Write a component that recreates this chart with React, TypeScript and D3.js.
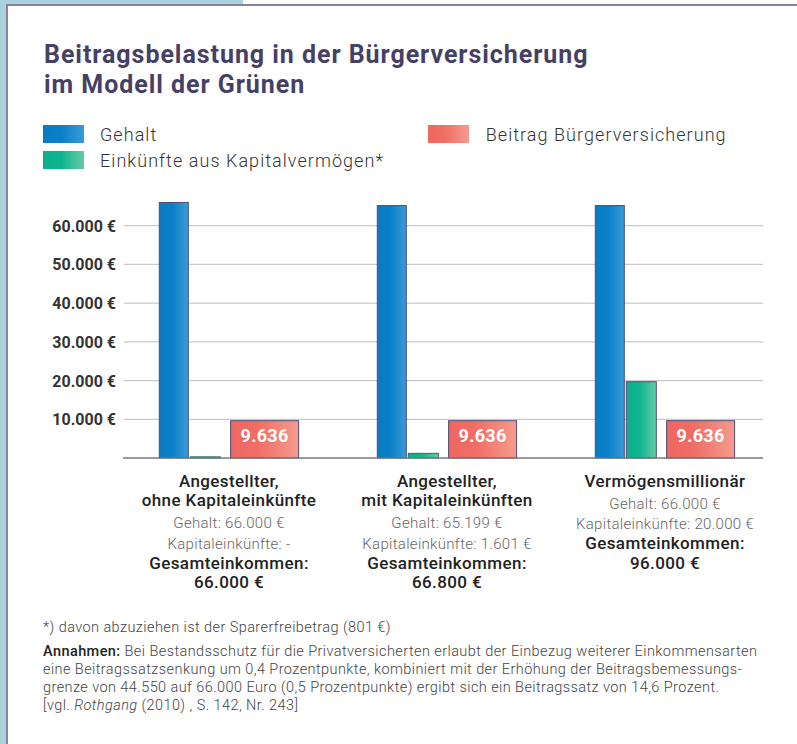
import React from "react";
import * as d3 from "d3";

const categories = ["ohne", "mit", "millionaer"];
const gehalt = [66000, 65199, 65200];
const kapital = [300, 1200, 19700];
const beitrag = [9636, 9636, 9636];
const yTicks = [10000, 20000, 30000, 40000, 50000, 60000];

const categoryNames = [
  ["Angestellter,", "ohne Kapitaleinkünfte"],
  ["Angestellter,", "mit Kapitaleinkünften"],
  ["Vermögensmillionär"],
];
const detailLines = [
  ["Gehalt: 66.000 €", "Kapitaleinkünfte: -"],
  ["Gehalt: 65.199 €", "Kapitaleinkünfte: 1.601 €"],
  ["Gehalt: 66.000 €", "Kapitaleinkünfte: 20.000 €"],
];
const totalLines = [
  ["Gesamteinkommen:", "66.000 €"],
  ["Gesamteinkommen:", "66.800 €"],
  ["Gesamteinkommen:", "96.000 €"],
];
const legendItems = [
  { key: "blue", label: "Gehalt" },
  { key: "green", label: "Einkünfte aus Kapitalvermögen*" },
  { key: "red", label: "Beitrag Bürgerversicherung" },
];
const titleLines = ["Beitragsbelastung in der Bürgerversicherung", "im Modell der Grünen"];
const footnote = "*) davon abzuziehen ist der Sparerfreibetrag (801 €)";
const noteLines = [
  " Bei Bestandsschutz für die Privatversicherten erlaubt der Einbezug weiterer Einkommensarten",
  "eine Beitragssatzsenkung um 0,4 Prozentpunkte, kombiniert mit der Erhöhung der Beitragsbemessungs-",
  "grenze von 44.550 auf 66.000 Euro (0,5 Prozentpunkte) ergibt sich ein Beitragssatz von 14,6 Prozent.",
];

const locale = d3.formatLocale({ decimal: ",", thousands: ".", grouping: [3], currency: ["", " €"] });
const fmt = locale.format(",.0f");

const FONT = "Roboto, 'Noto Sans', sans-serif";

export default function App() {
  const W = 797, H = 744;
  const y = d3.scaleLinear().domain([0, 60000]).range([458, 225.7]);
  const x = d3.scaleBand().domain(categories).range([120, 774]).padding(0);
  const axisL = 123, axisR = 763;

  const blueOff = -69.7, blueW = 29;
  const greenOff = -38.7, greenW = 30;
  const redOff = 1.6, redW = 68;
  const barStroke = "#514b72";
  const noteStyle = { fontSize: 14.5, fontWeight: 300, fill: "#444444", letterSpacing: 0.42 } as const;

  return (
    <div style={{ position: "absolute", left: 0, top: 0 }}>
      <svg width={W} height={H} style={{ display: "block", fontFamily: FONT }}>
        <defs>
          <linearGradient id="gBlue" x1="0" x2="1" y1="0" y2="0">
            <stop offset="0" stopColor="#0a7bc3" />
            <stop offset="0.45" stopColor="#0a80c8" />
            <stop offset="1" stopColor="#3a9bd7" />
          </linearGradient>
          <linearGradient id="gGreen" x1="0" x2="1" y1="0" y2="0">
            <stop offset="0" stopColor="#0cb08c" />
            <stop offset="0.45" stopColor="#0fb58f" />
            <stop offset="1" stopColor="#66caa7" />
          </linearGradient>
          <linearGradient id="gRed" x1="0" x2="1" y1="0" y2="0">
            <stop offset="0" stopColor="#ef6760" />
            <stop offset="0.4" stopColor="#f06e66" />
            <stop offset="1" stopColor="#f59b8d" />
          </linearGradient>
        </defs>
        <rect x={0} y={0} width={W} height={H} fill="#ffffff" />
        {/* frame */}
        <rect x={0} y={0} width={6} height={H} fill="#a9d2de" />
        <rect x={0} y={0} width={243} height={4} fill="#a9d2de" />
        <rect x={6} y={4} width={W - 6} height={2} fill="#86839c" />
        <rect x={6} y={4} width={2} height={H - 4} fill="#86839c" />

        {/* title */}
        {titleLines.map((t, i) => (
          <text key={i} x={44} y={63 + i * 30} fontSize={25} fontWeight={700} fill="#463f66" letterSpacing={0.95}>
            {t}
          </text>
        ))}

        {/* legend */}
        {legendItems.map((d, i) => {
          const lx = i === 2 ? 428 : 43;
          const ly = i === 1 ? 151 : 125;
          const fill = d.key === "blue" ? "url(#gBlue)" : d.key === "green" ? "url(#gGreen)" : "url(#gRed)";
          return (
            <g key={d.key}>
              <rect x={lx} y={ly} width={41} height={18} fill={fill} />
              <text x={lx + (i === 2 ? 57.7 : 57)} y={ly + 16} fontSize={18} fontWeight={300} fill="#333333" letterSpacing={1.05}>
                {d.label}
              </text>
            </g>
          );
        })}

        {/* grid + y labels */}
        {yTicks.map((t) => (
          <g key={t}>
            <line x1={axisL + 1} x2={axisR} y1={y(t)} y2={y(t)} stroke="#c9c9c9" strokeWidth={1.3} />
            <text x={116} y={y(t) + 6} textAnchor="end" fontSize={16} fontWeight={700} fill="#333333">
              {fmt(t) + " €"}
            </text>
          </g>
        ))}

        {/* bars */}
        {categories.map((c, i) => {
          const cx = (x(c) as number) + x.bandwidth() / 2;
          return (
            <g key={c}>
              <rect x={cx + blueOff} y={y(gehalt[i])} width={blueW} height={y(0) - y(gehalt[i])} fill="url(#gBlue)" stroke={barStroke} strokeWidth={1} />
              <rect x={cx + greenOff} y={y(kapital[i])} width={greenW} height={y(0) - y(kapital[i])} fill="url(#gGreen)" stroke={i === 2 ? barStroke : "#2f6b6a"} strokeWidth={1} />
              <rect x={cx + redOff} y={y(beitrag[i])} width={redW} height={y(0) - y(beitrag[i])} fill="url(#gRed)" stroke={barStroke} strokeWidth={1} />
              <text x={cx + redOff + redW / 2} y={y(beitrag[i]) + 21} textAnchor="middle" fontSize={18} fontWeight={700} fill="#ffffff" letterSpacing={0.3}>
                {fmt(beitrag[i])}
              </text>
            </g>
          );
        })}

        {/* axis baseline */}
        <line x1={axisL} x2={axisR} y1={y(0)} y2={y(0)} stroke="#7a7a7a" strokeWidth={1.6} />

        {/* category labels */}
        {categories.map((c, i) => {
          const cx = (x(c) as number) + x.bandwidth() / 2;
          const two = categoryNames[i].length === 2;
          const nameY = [487, 506];
          const detY = two ? [528, 549] : [509, 529];
          const totY = two ? [569, 588] : [549, 568.5];
          return (
            <g key={c} textAnchor="middle">
              {categoryNames[i].map((t, j) => (
                <text key={"n" + j} x={cx} y={nameY[j]} fontSize={17} fontWeight={500} fill="#222222" letterSpacing={0.4}>{t}</text>
              ))}
              {detailLines[i].map((t, j) => (
                <text key={"d" + j} x={cx} y={detY[j]} fontSize={15} fontWeight={300} fill="#666666" letterSpacing={0.3}>{t}</text>
              ))}
              {totalLines[i].map((t, j) => (
                <text key={"t" + j} x={cx} y={totY[j]} fontSize={17} fontWeight={500} fill="#222222" letterSpacing={0.4}>{t}</text>
              ))}
            </g>
          );
        })}

        {/* footnotes */}
        <text x={43} y={632} {...noteStyle}>{footnote}</text>
        <text x={43} y={656} {...noteStyle}>
          <tspan fontWeight={500} fill="#222222">Annahmen:</tspan>
          {noteLines[0]}
        </text>
        {noteLines.slice(1).map((t, i) => (
          <text key={i} x={43} y={674 + i * 18} {...noteStyle}>{t}</text>
        ))}
        <text x={43} y={710} {...noteStyle}>
          {"[vgl. "}
          <tspan fontStyle="italic">Rothgang</tspan>
          {" (2010) , S. 142, Nr. 243]"}
        </text>
      </svg>
    </div>
  );
}
